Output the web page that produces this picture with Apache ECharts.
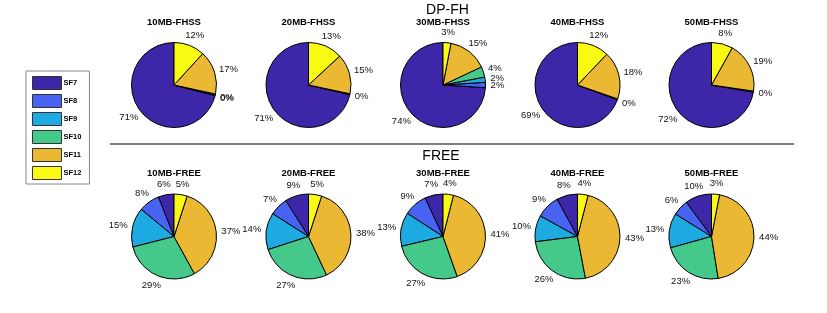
<!DOCTYPE html>
<html>
<head>
<meta charset="utf-8">
<script src="https://cdn.jsdelivr.net/npm/echarts@6/dist/echarts.min.js"></script>
<style>
html,body{margin:0;padding:0;background:#fff;}
#chart{width:827px;height:313px;}
</style>
</head>
<body>
<div id="chart"></div>
<script>
// ---- data ----
const categories = ['SF7', 'SF8', 'SF9', 'SF10', 'SF11', 'SF12'];
const colors = ['#3D26A8', '#4862F2', '#1DAAE0', '#45C98A', '#EAB833', '#F8FA14'];

const fhssTitles = ['10MB-FHSS', '20MB-FHSS', '30MB-FHSS', '40MB-FHSS', '50MB-FHSS'];
const freeTitles = ['10MB-FREE', '20MB-FREE', '30MB-FREE', '40MB-FREE', '50MB-FREE'];

// percentages per SF7..SF12 (0 = absent; tiny values display as 0%)
const fhss10 = [71.0, 0, 0.2, 0.4, 16.6, 11.8];
const fhss20 = [71.3, 0, 0, 0.4, 15.2, 13.1];
const fhss30 = [74, 2, 2, 4, 15, 3];
const fhss40 = [69.3, 0, 0, 0.4, 18.2, 12.1];
const fhss50 = [72.3, 0, 0, 0.4, 19.2, 8.1];

const free10 = [6, 8, 15, 29, 37, 5];
const free20 = [9, 7, 14, 27, 38, 5];
const free30 = [7, 9, 13, 27, 41, 4];
const free40 = [8, 9, 10, 26, 43, 4];
const free50 = [10, 6, 13, 23, 44, 3];

const fhssRows = [fhss10, fhss20, fhss30, fhss40, fhss50];
const freeRows = [free10, free20, free30, free40, free50];

// ---- layout ----
const colX = [174, 308.5, 443, 577.5, 711.5];
const rowY = [85, 236.5];
const R = 42.5;
const FONT = "'Liberation Sans', Arial, Helvetica, sans-serif";

const seriesInfo = [];

function pieSeries(values, cx, cy) {
  const items = categories.map((c, i) => ({
    name: c,
    value: values[i],
    itemStyle: { color: colors[i] }
  })).filter(d => d.value > 0);
  const total = items.reduce((s, d) => s + d.value, 0);
  let cum = 0;
  const dirs = items.map(d => {
    const a = (cum + d.value / 2) / total * 2 * Math.PI; // counter-clockwise from top
    cum += d.value;
    return [-Math.sin(a), -Math.cos(a)];
  });
  seriesInfo.push({ cx: cx, cy: cy, dirs: dirs });
  return {
    type: 'pie',
    center: [cx, cy],
    radius: R,
    clockwise: false,
    startAngle: 90,
    avoidLabelOverlap: false,
    animation: false,
    silent: true,
    minAngle: 0,
    data: items,
    itemStyle: { borderColor: '#000', borderWidth: 1 },
    label: {
      show: true,
      position: 'outside',
      formatter: p => Math.round(p.value) + '%',
      fontSize: 9.5,
      fontFamily: FONT,
      color: '#111',
      distanceToLabelLine: 0
    },
    labelLine: { show: false, length: 4, length2: 0 },
    labelLayout: function (params) {
      const info = seriesInfo[params.seriesIndex];
      const d = info.dirs[params.dataIndex];
      const w = params.labelRect.width;
      const h = 11;
      const rr = 1.12 * R;
      return {
        x: info.cx + d[0] * rr + d[0] * w / 2,
        y: info.cy + d[1] * rr + d[1] * h / 2,
        align: 'center',
        verticalAlign: 'middle',
        hideOverlap: false
      };
    },
    emphasis: { disabled: true }
  };
}

const series = [];
fhssRows.forEach((v, i) => series.push(pieSeries(v, colX[i], rowY[0])));
freeRows.forEach((v, i) => series.push(pieSeries(v, colX[i], rowY[1])));

const graphics = [];
function txt(t, x, y, size, weight) {
  graphics.push({
    type: 'text', x: x, y: y, silent: true,
    style: {
      text: t, fontSize: size, fontWeight: weight,
      fontFamily: FONT, fill: '#000',
      align: 'center', verticalAlign: 'middle',
      textAlign: 'center', textVerticalAlign: 'middle'
    }
  });
}
fhssTitles.forEach((t, i) => txt(t, colX[i], 22, 9.5, 'bold'));
freeTitles.forEach((t, i) => txt(t, colX[i], 173.5, 9.5, 'bold'));
txt('DP-FH', 447.5, 10, 14, 'normal');
txt('FREE', 441, 156.5, 14, 'normal');
graphics.push({
  type: 'line', silent: true,
  shape: { x1: 110, y1: 144, x2: 794, y2: 144 },
  style: { stroke: '#555', lineWidth: 1.5 }
});

const chart = echarts.init(document.getElementById('chart'), null, { renderer: 'canvas' });
chart.setOption({
  backgroundColor: '#fff',
  animation: false,
  legend: {
    orient: 'vertical',
    left: 26,
    top: 71,
    data: categories,
    itemWidth: 29,
    itemHeight: 13,
    itemGap: 4,
    padding: [5, 8, 4, 6],
    borderColor: '#888',
    borderWidth: 1,
    selectedMode: false,
    icon: 'rect',
    textStyle: { fontSize: 7.5, fontWeight: 'bold', fontFamily: FONT, color: '#000', padding: [0, 0, 0, -3] },
    itemStyle: { borderColor: '#333', borderWidth: 1 }
  },
  graphic: graphics,
  series: series
});
</script>
</body>
</html>
